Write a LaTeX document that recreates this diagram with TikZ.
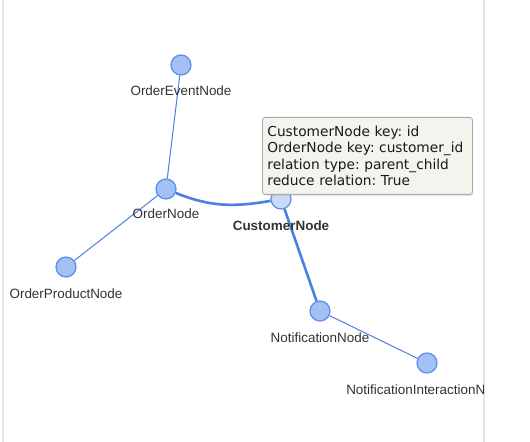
\documentclass[tikz,border=0pt]{standalone}
\usepackage{fontspec}
\setmainfont{Liberation Sans}
\newfontfamily\tipfont{DejaVu Sans}
\usetikzlibrary{shadows}

\definecolor{nodefill}{HTML}{A3C0F5}
\definecolor{nodeline}{HTML}{5B8DEE}
\definecolor{rootfill}{HTML}{CADAF8}
\definecolor{edgeblue}{HTML}{4A7FE3}
\definecolor{tipfill}{HTML}{F4F3EE}
\definecolor{tipline}{HTML}{ABABAB}
\definecolor{panelline}{HTML}{E2E2E2}

\begin{document}
\begin{tikzpicture}[
	x=1bp,
	y=-1bp,
	execute at begin picture={\frenchspacing},
	entity/.style={circle, draw=nodeline, fill=nodefill, line width=1.2bp, minimum size=20bp, inner sep=0pt},
	caption/.style={anchor=base, inner sep=0pt, font=\fontsize{13.5}{16}\selectfont, text=black!80},
	link/.style={edgeblue, line width=1bp},
	mainlink/.style={edgeblue, line width=2.6bp},
	tipbox/.style={draw=tipline, fill=tipfill, rounded corners=2.5bp, line width=0.8bp,
		drop shadow={shadow xshift=1bp, shadow yshift=-1.5bp, opacity=0.18},
		text width=200bp, minimum height=77bp, inner xsep=5bp, inner ysep=0pt, align=left,
		font=\tipfont\fontsize{13.8}{16.6}\selectfont, text=black!90}
	]
	\useasboundingbox (0,0) rectangle (530,442);
	\fill[white] (0,0) rectangle (530,442);
	\draw[panelline, line width=1.2bp] (3,0) -- (3,442);
	\draw[panelline, line width=1.2bp] (484,0) -- (484,442);

	\begin{scope}
	\clip (3.6,0) rectangle (483.4,442);

	\node[entity] (oe) at (181,65) {};
	\node[entity] (on) at (166,189) {};
	\node[entity, fill=rootfill] (cn) at (281,199) {};
	\node[entity] (op) at (66,267) {};
	\node[entity] (nn) at (320,311) {};
	\node[entity] (ni) at (427,363) {};

	\draw[link] (oe) -- (on);
	\draw[link] (on) -- (op);
	\draw[mainlink] (on) to[out=-22, in=-170] (cn);
	\draw[mainlink] (cn) -- (nn);
	\draw[link] (nn) -- (ni);

	\node[caption] (oe-l) at (181,96) {OrderEventNode};
	\node[caption] (on-l) at (166,219) {OrderNode};
	\node[caption, font=\fontsize{13.5}{16}\selectfont\bfseries] (cn-l) at (281,231) {CustomerNode};
	\node[caption] (op-l) at (66,298) {OrderProductNode};
	\node[caption] (nn-l) at (320,342) {NotificationNode};
	\node[caption] (ni-l) at (427,394) {NotificationInteractionNode};

	\node[tipbox, anchor=north west] (tip) at (262,117) {%
		CustomerNode key: id\\
		OrderNode key: customer\_id\\
		relation type: parent\_child\\
		reduce relation: True};
	\end{scope}
\end{tikzpicture}
\end{document}
